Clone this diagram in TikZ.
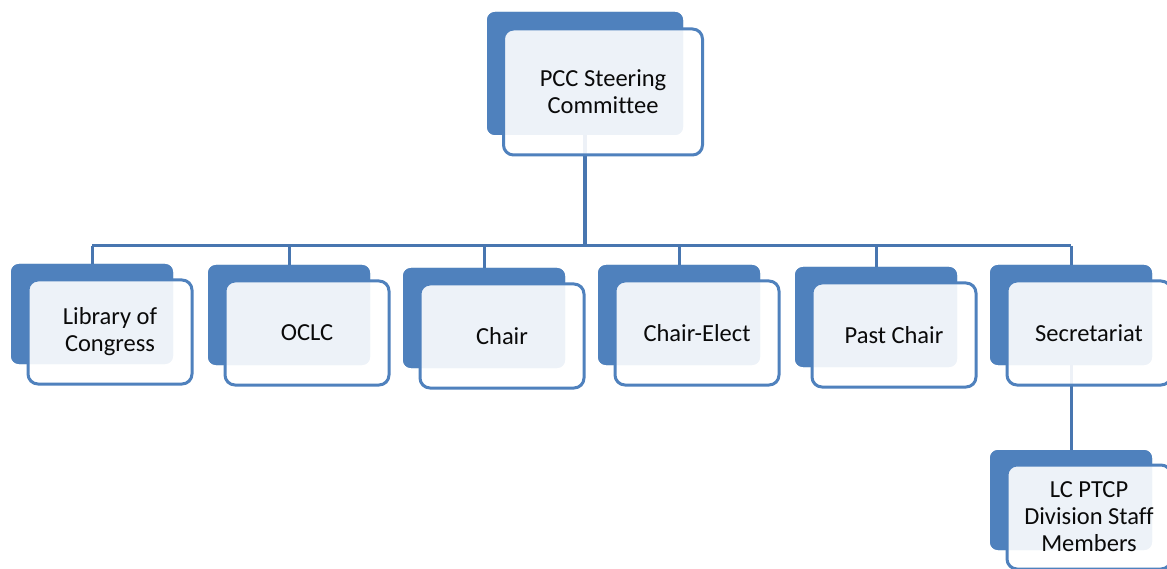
\documentclass[tikz,border=0pt]{standalone}
\usepackage{fontspec}
\setmainfont[RawFeature=-liga]{Carlito}
\definecolor{accblue}{RGB}{79,129,189}
\definecolor{lineblue}{RGB}{72,118,176}
\definecolor{txt}{RGB}{10,10,10}
\begin{document}
\begin{tikzpicture}[x=1pt,y=-1pt,
  backbox/.style={rectangle, fill=accblue, rounded corners=8pt, inner sep=0pt, minimum width=162pt, minimum height=100pt},
  frontbox/.style={rectangle, draw=accblue, line width=3pt, fill=white, fill opacity=0.9, text opacity=1, rounded corners=10pt, inner sep=0pt, minimum width=164pt, minimum height=104pt, align=center, text=txt, font=\fontsize{24.5}{27}\selectfont},
  conn/.style={draw=lineblue, line width=3pt},
  trunk/.style={draw=lineblue, line width=4pt}]
\useasboundingbox (0,0) rectangle (1167,569);
\fill[white] (0,0) rectangle (1167,569);
% bus coordinate
\coordinate (bus) at (585,246);
% positions of the bottom boxes (back box left/top)
\foreach \n/\x/\y in {lib/11/264, oclc/208/265, chair/403/268, elect/598/265, past/795/267, secr/990/265}{
  \coordinate (\n pos) at ({\x+81},{\y+50});
}
% back boxes (named) and connectors
\node[backbox, minimum width=196pt, minimum height=123pt] (topb) at (585,73.5) {};
\foreach \n in {lib,oclc,chair,elect,past,secr}{
  \node[backbox] (\n b) at (\n pos) {};
}
\node[backbox] (lcb) at (1071,500) {};
\path[trunk] (topb.south) -- (topb.south |- bus);
\path[conn] (libb.north |- bus) -- (secrb.north |- bus);
\foreach \n in {lib,oclc,chair,elect,past,secr}{
  \path[conn] (\n b.north |- bus) -- (\n b.north);
}
\path[conn] (secrb.south) -- (lcb.north);
% redraw backs over connectors
\node[backbox, minimum width=196pt, minimum height=123pt] at (topb) {};
\foreach \n in {lib,oclc,chair,elect,past,secr}{
  \node[backbox] at (\n b) {};
}
\node[backbox] at (lcb) {};
% fronts
\node[frontbox, minimum width=199pt, minimum height=126pt] (topf) at ([shift={(18,18.5)}]topb.center) {PCC Steering\\Committee};
\node[frontbox] (libf) at ([shift={(18,18)}]libb.center) {Library of\\Congress};
\node[frontbox] (oclcf) at ([shift={(18,18)}]oclcb.center) {OCLC};
\node[frontbox] (chairf) at ([shift={(18,18)}]chairb.center) {Chair};
\node[frontbox] (electf) at ([shift={(18,18)}]electb.center) {Chair-Elect};
\node[frontbox] (pastf) at ([shift={(18,18)}]pastb.center) {Past Chair};
\node[frontbox] (secrf) at ([shift={(18,18)}]secrb.center) {Secretariat};
\node[frontbox] (lcf) at ([shift={(18,17)}]lcb.center) {LC PTCP\\Division Staff\\Members};
\end{tikzpicture}
\end{document}
